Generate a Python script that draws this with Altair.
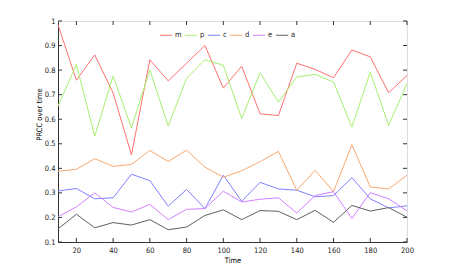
import altair as alt
import pandas as pd

times = [10, 20, 30, 40, 50, 60, 70, 80, 90, 100, 110, 120, 130, 140, 150, 160, 170, 180, 190, 200]
series_names = ["m", "p", "c", "d", "e", "a"]
m_vals = [0.985, 0.759, 0.862, 0.707, 0.455, 0.842, 0.756, 0.828, 0.900, 0.727, 0.816, 0.622, 0.615, 0.828, 0.803, 0.769, 0.882, 0.854, 0.708, 0.778]
p_vals = [0.653, 0.823, 0.531, 0.776, 0.565, 0.801, 0.572, 0.767, 0.842, 0.820, 0.603, 0.789, 0.670, 0.772, 0.783, 0.751, 0.568, 0.792, 0.575, 0.745]
c_vals = [0.308, 0.318, 0.276, 0.280, 0.376, 0.350, 0.246, 0.314, 0.236, 0.372, 0.266, 0.343, 0.316, 0.311, 0.284, 0.289, 0.362, 0.276, 0.239, 0.247]
d_vals = [0.388, 0.396, 0.439, 0.408, 0.416, 0.473, 0.428, 0.474, 0.405, 0.364, 0.390, 0.427, 0.469, 0.310, 0.392, 0.305, 0.496, 0.324, 0.316, 0.372]
e_vals = [0.203, 0.243, 0.300, 0.241, 0.222, 0.253, 0.191, 0.233, 0.236, 0.307, 0.263, 0.274, 0.280, 0.218, 0.289, 0.305, 0.196, 0.301, 0.276, 0.227]
a_vals = [0.153, 0.213, 0.158, 0.179, 0.169, 0.191, 0.150, 0.161, 0.208, 0.231, 0.191, 0.228, 0.225, 0.191, 0.229, 0.180, 0.249, 0.226, 0.240, 0.201]
colors = ["#ff7070", "#a8f070", "#8080ff", "#f8a870", "#d080ff", "#606060"]
x_ticks = [20, 40, 60, 80, 100, 120, 140, 160, 180, 200]
y_ticks = [0.1, 0.2, 0.3, 0.4, 0.5, 0.6, 0.7, 0.8, 0.9, 1.0]

all_vals = [m_vals, p_vals, c_vals, d_vals, e_vals, a_vals]
rows = []
for name, vals in zip(series_names, all_vals):
    for t, v in zip(times, vals):
        rows.append({"Time": t, "value": v, "series": name})
df = pd.DataFrame(rows)

W, H = 349, 221
FONT = "DejaVu Sans Condensed"
FS = 7.5

xscale = alt.Scale(domain=[10, 200], nice=False, zero=False)
yscale = alt.Scale(domain=[0.1, 1.0], nice=False, zero=False)

x_axis = alt.Axis(values=x_ticks, tickSize=0, labelPadding=4, title="Time",
                  labelOverlap=False, labelFlush=False,
                  titleFontWeight="normal", titleFontSize=FS, titlePadding=3,
                  grid=False, domainColor="#333333", labelColor="#222222",
                  labelFontSize=FS, labelFont=FONT, titleFont=FONT)
y_axis = alt.Axis(values=y_ticks, format=".1~f", tickSize=0, labelPadding=3,
                  labelOverlap=False, labelFlush=False,
                  title="PRCC over time", titleFontWeight="normal", titleFontSize=FS,
                  titleX=-15, titleY=93, grid=False, domainColor="#333333",
                  labelColor="#222222", labelFontSize=FS, labelFont=FONT, titleFont=FONT)

lines = alt.Chart(df).mark_line(strokeWidth=1, clip=True).encode(
    x=alt.X("Time:Q", scale=xscale, axis=x_axis, title="Time"),
    y=alt.Y("value:Q", scale=yscale, axis=y_axis, title="PRCC over time"),
    color=alt.Color("series:N", sort=series_names,
                    scale=alt.Scale(domain=series_names, range=colors),
                    legend=alt.Legend(orient="none", legendX=101, legendY=7, direction="horizontal",
                                      title=None, symbolType="stroke", symbolSize=150,
                                      symbolStrokeWidth=1, labelFontSize=FS, labelFont=FONT,
                                      labelOffset=2, columnPadding=0, labelColor="#222222")),
)

xt = pd.DataFrame({"t": x_ticks})
yt = pd.DataFrame({"v": y_ticks})
tick_color = "#333333"
bot = alt.Chart(xt).mark_rule(color=tick_color, strokeWidth=1).encode(
    x=alt.X("t:Q", scale=xscale, axis=x_axis, title="Time"), y=alt.value(H), y2=alt.value(H - 4))
top = alt.Chart(xt).mark_rule(color=tick_color, strokeWidth=1).encode(
    x=alt.X("t:Q", scale=xscale, axis=x_axis, title="Time"), y=alt.value(0), y2=alt.value(4))
left = alt.Chart(yt).mark_rule(color=tick_color, strokeWidth=1).encode(
    y=alt.Y("v:Q", scale=yscale, axis=y_axis, title="PRCC over time"), x=alt.value(0), x2=alt.value(4))
right = alt.Chart(yt).mark_rule(color=tick_color, strokeWidth=1).encode(
    y=alt.Y("v:Q", scale=yscale, axis=y_axis, title="PRCC over time"), x=alt.value(W), x2=alt.value(W - 4))

chart = alt.layer(lines, bot, top, left, right).properties(
    width=W, height=H,
    autosize=alt.AutoSizeParams(type="none"),
    padding={"left": 50, "top": 13, "right": 20, "bottom": 26},
).configure_view(stroke="#333333", strokeWidth=1).configure(background="white")

chart.save("out.html", embed_options={"renderer": "svg", "actions": False})
